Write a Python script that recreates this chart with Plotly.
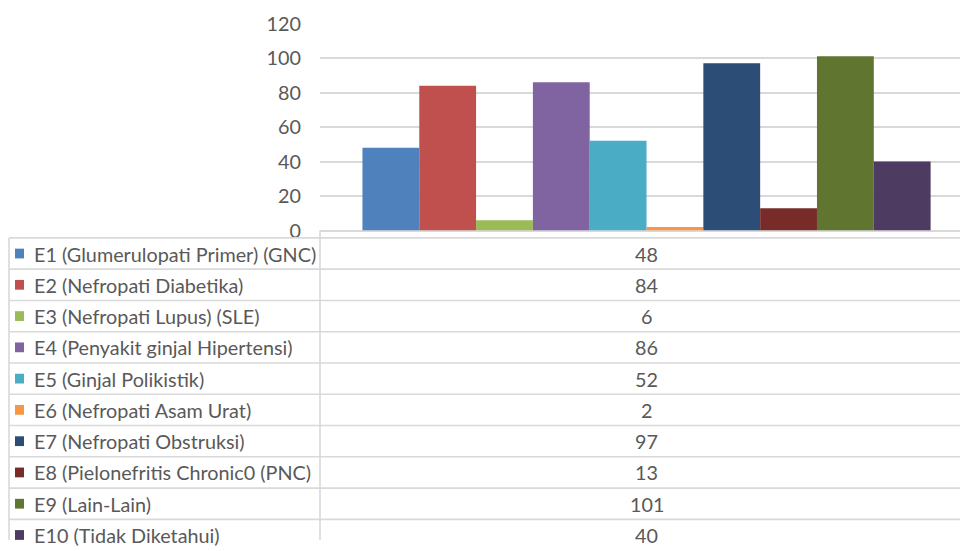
import plotly.graph_objects as go

# Etiologi categories, their counts and bar colours
labels = [
    "E1 (Glumerulopati Primer) (GNC)",
    "E2 (Nefropati Diabetika)",
    "E3 (Nefropati Lupus) (SLE)",
    "E4 (Penyakit ginjal Hipertensi)",
    "E5 (Ginjal Polikistik)",
    "E6 (Nefropati Asam Urat)",
    "E7 (Nefropati Obstruksi)",
    "E8 (Pielonefritis Chronic0 (PNC)",
    "E9 (Lain-Lain)",
    "E10 (Tidak Diketahui)",
]
values = [48, 84, 6, 86, 52, 2, 97, 13, 101, 40]
colors = ["#4F81BD", "#C0504D", "#9BBB59", "#8064A2", "#4BACC6",
          "#F79646", "#2C4D75", "#772C2A", "#5F7530", "#4D3B62"]
y_ticks = [0, 20, 40, 60, 80, 100, 120]

W, H = 960, 551
FONT = "Lato"
TXT = "#595959"
GRID = "#D9D9D9"

# window-pixel positions are mapped into paper space with a small page band
PAGE_PAD = 6.0
PAGE_H = H + 2 * PAGE_PAD


def px_x(p):
    return min(max(p / W, 0.0), 1.0)


def px_y(t):
    p = t * PAGE_H / H - PAGE_PAD
    return min(max((H - p) / H, 0.0), 1.0)


fig = go.Figure()
for lab, val, col in zip(labels, values, colors):
    fig.add_trace(go.Bar(x=[0], y=[val], name=lab, marker_color=col,
                         marker_line_width=0, showlegend=False))

# Data table layout (window pixels)
tbl_left, col_split, tbl_right = 9, 320, 960
row_top, row_h = 236, 32.0
val_center = 646.5

shapes = []
n = len(labels)
for k in range(n + 1):
    yp = row_top + k * row_h
    if px_y(yp) <= 0:
        continue
    yy = px_y(yp)
    shapes.append(dict(type="line", xref="paper", yref="paper",
                       x0=px_x(tbl_left), x1=px_x(tbl_right), y0=yy, y1=yy,
                       line=dict(color=GRID, width=1.6)))
for xv, ytop in [(tbl_left, row_top), (col_split, 228.5)]:
    shapes.append(dict(type="line", xref="paper", yref="paper",
                       x0=px_x(xv), x1=px_x(xv), y0=px_y(ytop), y1=0,
                       line=dict(color=GRID, width=1.6)))

annotations = []
for k, (lab, val, col) in enumerate(zip(labels, values, colors)):
    cy = row_top + (k + 0.5) * row_h
    shapes.append(dict(type="rect", xref="paper", yref="paper",
                       x0=px_x(15), x1=px_x(24), y0=px_y(cy + 5), y1=px_y(cy - 5),
                       fillcolor=col, line=dict(width=0)))
    annotations.append(dict(xref="paper", yref="paper", x=px_x(32), y=px_y(cy),
                            text=lab, showarrow=False, xanchor="left", yanchor="middle",
                            font=dict(family=FONT, size=19.8, color=TXT)))
    annotations.append(dict(xref="paper", yref="paper", x=px_x(val_center), y=px_y(cy),
                            text=str(val), showarrow=False, xanchor="center", yanchor="middle",
                            font=dict(family=FONT, size=19.8, color=TXT)))

fig.update_layout(
    width=W, height=H,
    margin=dict(l=0, r=0, t=0, b=0),
    paper_bgcolor="white", plot_bgcolor="white",
    barmode="group", bargap=0.13, bargroupgap=0,
    shapes=shapes, annotations=annotations,
    xaxis=dict(domain=[px_x(320), 1], range=[-0.5, 0.48], showticklabels=False,
               showgrid=False, zeroline=False, showline=False, ticks=""),
    yaxis=dict(domain=[px_y(228.5), px_y(16.7)], range=[0, 120], tickvals=y_ticks,
               showgrid=True, gridcolor=GRID, gridwidth=1.6,
               zeroline=True, zerolinecolor=GRID, zerolinewidth=1.6,
               showline=False, ticks="", ticklabelstandoff=18,
               ticklabeloverflow="allow",
               tickfont=dict(family=FONT, size=19.8, color=TXT)),
)

fig.write_html("out.html")
